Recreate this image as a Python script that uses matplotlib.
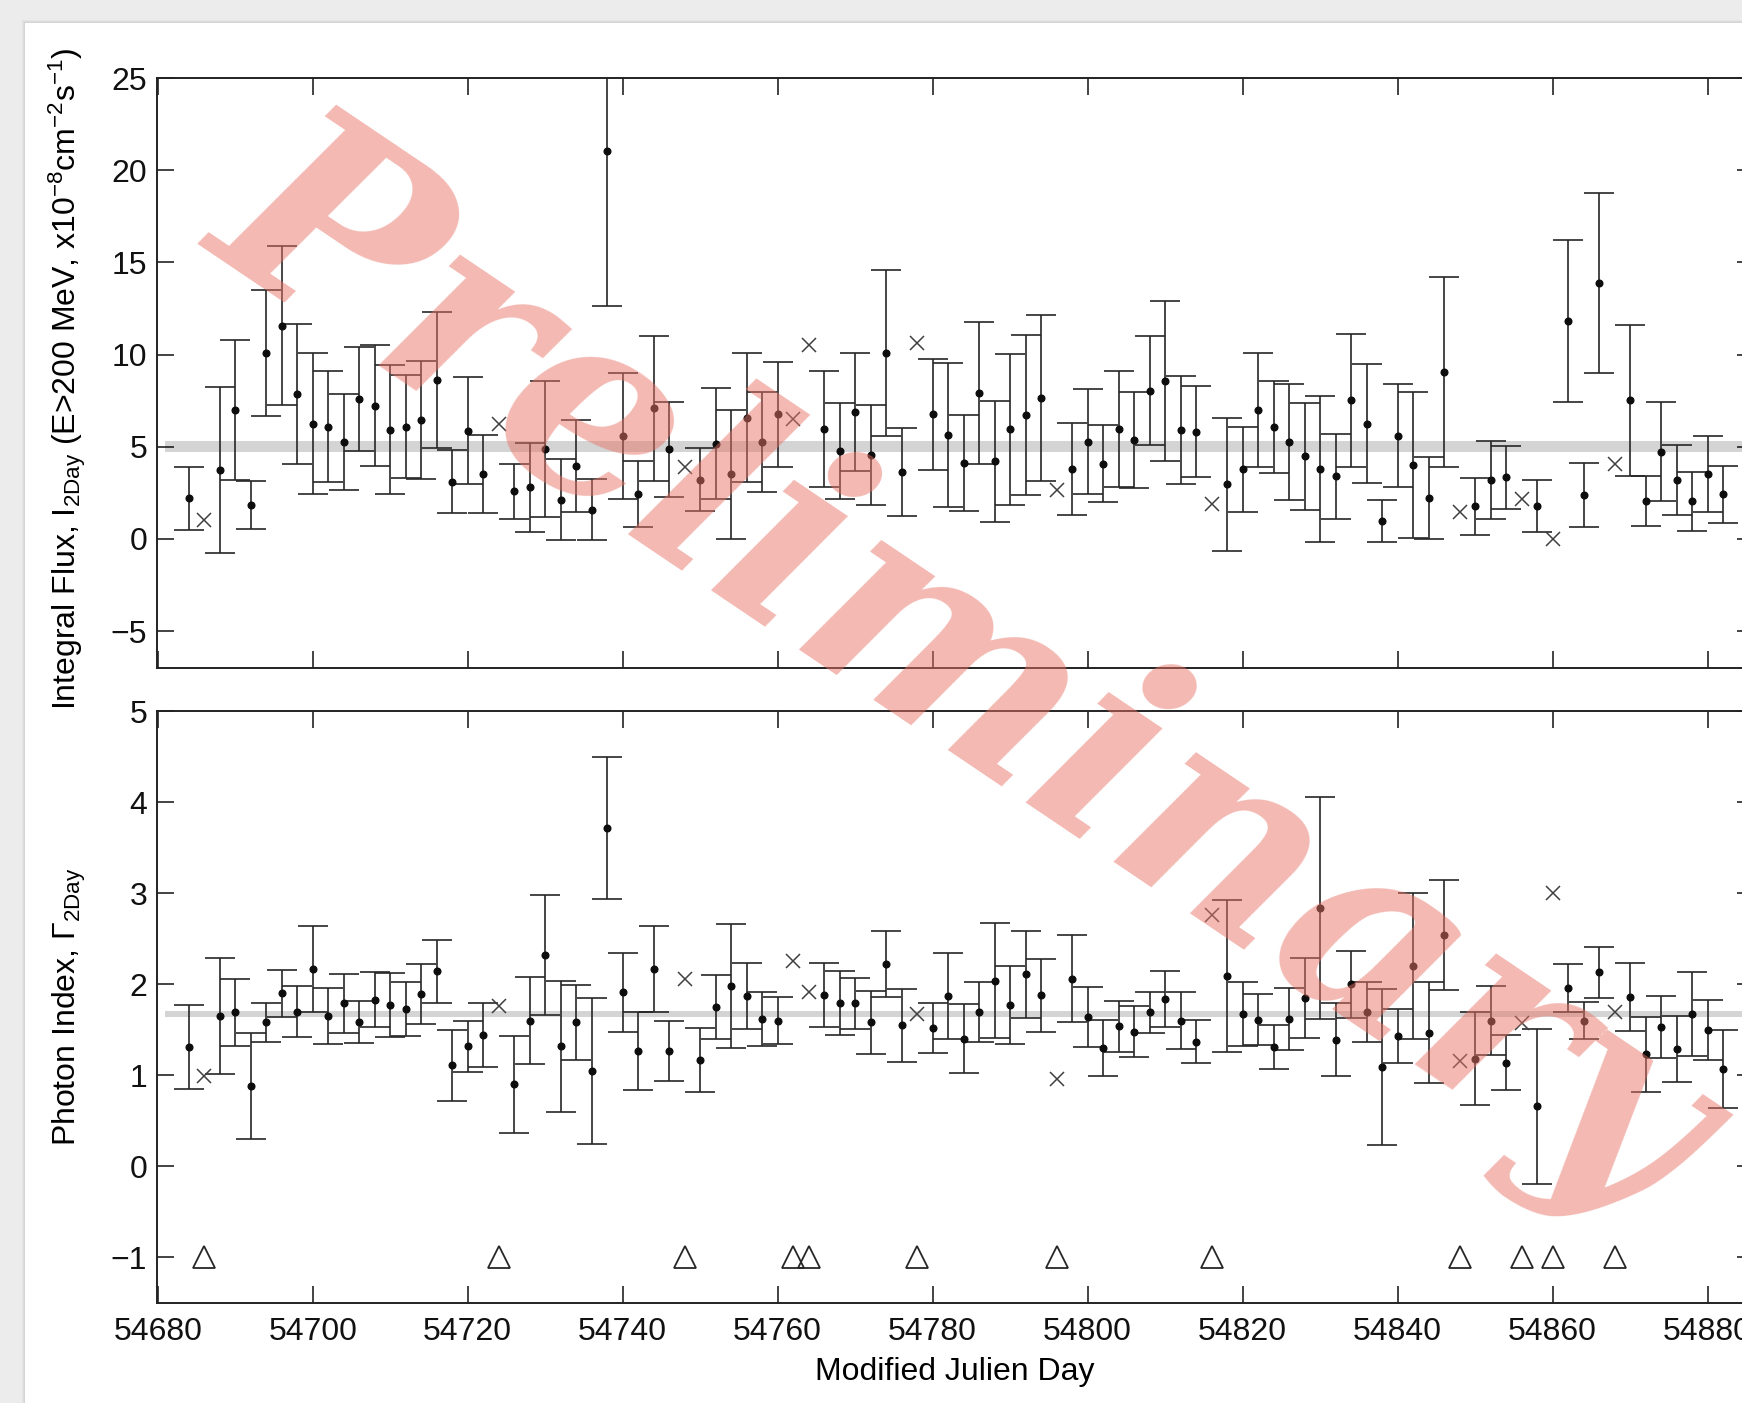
import numpy as np
import matplotlib.pyplot as plt
from matplotlib.patches import Rectangle

plt.rcParams['font.family'] = ['Liberation Sans', 'DejaVu Sans']
plt.rcParams['mathtext.fontset'] = 'custom'
plt.rcParams['mathtext.rm'] = 'Liberation Sans'
plt.rcParams['mathtext.it'] = 'Liberation Sans:italic'
plt.rcParams['mathtext.bf'] = 'Liberation Sans:bold'

# 2-day bins (MJD centre)
mjd = [54684, 54686, 54688, 54690, 54692, 54694, 54696, 54698, 54700, 54702,
       54704, 54706, 54708, 54710, 54712, 54714, 54716, 54718, 54720, 54722,
       54724, 54726, 54728, 54730, 54732, 54734, 54736, 54738, 54740, 54742,
       54744, 54746, 54748, 54750, 54752, 54754, 54756, 54758, 54760, 54762,
       54764, 54766, 54768, 54770, 54772, 54774, 54776, 54778, 54780, 54782,
       54784, 54786, 54788, 54790, 54792, 54794, 54796, 54798, 54800, 54802,
       54804, 54806, 54808, 54810, 54812, 54814, 54816, 54818, 54820, 54822,
       54824, 54826, 54828, 54830, 54832, 54834, 54836, 54838, 54840, 54842,
       54844, 54846, 54848, 54850, 54852, 54854, 54856, 54858, 54860, 54862,
       54864, 54866, 54868, 54870, 54872, 54874, 54876, 54878, 54880, 54882]

# integral flux E>200 MeV (x1e-8 cm-2 s-1) and 1-sigma errors
flux = [2.20, 1.04, 3.74, 6.98, 1.84, 10.09, 11.57, 7.84, 6.26, 6.09,
        5.27, 7.59, 7.23, 5.91, 6.09, 6.43, 8.62, 3.11, 5.86, 3.53,
        6.26, 2.58, 2.79, 4.89, 2.12, 3.95, 1.59, 21.06, 5.59, 2.43,
        7.08, 4.85, 3.91, 3.21, 5.17, 3.51, 6.58, 5.27, 6.75, 6.52,
        10.54, 5.95, 4.75, 6.89, 4.54, 10.09, 3.63, 10.62, 6.75, 5.63,
        4.12, 7.93, 4.20, 5.95, 6.73, 7.63, 2.68, 3.78, 5.27, 4.09,
        5.95, 5.36, 8.05, 8.58, 5.91, 5.82, 1.88, 2.96, 3.78, 6.98,
        6.09, 5.25, 4.49, 3.80, 3.40, 7.51, 6.26, 0.98, 5.59, 4.01,
        2.22, 9.04, 1.46, 1.76, 3.19, 3.34, 2.14, 1.80, -0.01, 11.80,
        2.39, 13.88, 4.09, 7.51, 2.05, 4.73, 3.19, 2.05, 3.53, 2.41]
flux_err = [1.70, 0, 4.50, 3.80, 1.30, 3.40, 4.30, 3.80, 3.80, 3.00,
            2.60, 2.80, 3.30, 3.50, 2.80, 3.20, 3.70, 1.70, 2.90, 2.10,
            0, 1.50, 2.40, 3.70, 2.20, 2.50, 1.65, 8.40, 3.40, 1.80,
            3.95, 2.60, 0, 1.70, 3.00, 3.50, 3.50, 2.70, 2.85, 0,
            0, 3.15, 2.60, 3.20, 2.70, 4.50, 2.40, 0, 3.00, 3.90,
            2.60, 3.85, 3.30, 4.10, 4.35, 4.50, 0, 2.50, 2.85, 2.10,
            3.15, 2.60, 2.95, 4.35, 2.95, 2.45, 0, 3.60, 2.30, 3.10,
            2.50, 3.15, 2.90, 3.95, 2.30, 3.60, 3.25, 1.15, 2.80, 3.95,
            2.20, 5.15, 0, 1.55, 2.10, 1.70, 0, 1.40, 0, 4.40,
            1.75, 4.90, 0, 4.10, 1.35, 2.70, 1.90, 1.60, 2.05, 1.55]

# photon index and errors
index = [1.31, 0.99, 1.65, 1.69, 0.88, 1.58, 1.90, 1.70, 2.17, 1.65,
         1.79, 1.59, 1.83, 1.77, 1.73, 1.89, 2.14, 1.11, 1.32, 1.44,
         1.76, 0.90, 1.60, 2.32, 1.32, 1.58, 1.05, 3.72, 1.91, 1.27,
         2.17, 1.27, 2.06, 1.17, 1.75, 1.98, 1.87, 1.62, 1.60, 2.25,
         1.91, 1.88, 1.79, 1.79, 1.58, 2.22, 1.55, 1.67, 1.52, 1.87,
         1.40, 1.70, 2.04, 1.77, 2.11, 1.88, 0.96, 2.06, 1.64, 1.30,
         1.54, 1.48, 1.69, 1.84, 1.60, 1.37, 2.76, 2.09, 1.67, 1.61,
         1.31, 1.62, 1.85, 2.84, 1.39, 2.00, 1.70, 1.09, 1.43, 2.20,
         1.47, 2.54, 1.16, 1.18, 1.60, 1.14, 1.57, 0.66, 3.00, 1.96,
         1.60, 2.13, 1.69, 1.86, 1.23, 1.53, 1.29, 1.67, 1.50, 1.07]
index_err = [0.46, 0, 0.64, 0.37, 0.58, 0.21, 0.26, 0.28, 0.47, 0.31,
             0.32, 0.23, 0.30, 0.35, 0.30, 0.33, 0.35, 0.39, 0.28, 0.35,
             0, 0.53, 0.48, 0.66, 0.72, 0.41, 0.80, 0.78, 0.43, 0.43,
             0.47, 0.33, 0, 0.35, 0.35, 0.68, 0.36, 0.30, 0.26, 0,
             0, 0.35, 0.35, 0.28, 0.35, 0.36, 0.40, 0, 0.27, 0.47,
             0.38, 0.33, 0.63, 0.43, 0.48, 0.40, 0, 0.48, 0.33, 0.31,
             0.28, 0.28, 0.23, 0.31, 0.31, 0.24, 0, 0.83, 0.35, 0.28,
             0.24, 0.34, 0.44, 1.22, 0.40, 0.37, 0.33, 0.86, 0.30, 0.80,
             0.55, 0.60, 0, 0.51, 0.38, 0.30, 0, 0.85, 0, 0.26,
             0.20, 0.28, 0, 0.37, 0.41, 0.34, 0.36, 0.46, 0.33, 0.43]

# bins with low significance (plotted as crosses, flagged with triangles)
low_ts = [54686, 54724, 54748, 54762, 54764, 54778, 54796, 54816,
          54848, 54856, 54860, 54868]
flag_level = -1

# mean values (grey bands)
flux_mean, flux_mean_err = 5.0, 0.31
index_mean, index_mean_err = 1.675, 0.035
band_span = [54681, 54886]

mjd = np.array(mjd)
low = np.isin(mjd, low_ts)
good = ~low

fig = plt.figure(figsize=(17.42, 14.03), dpi=100)

# page with a soft shadow on the left / top
fig.patch.set_facecolor('#ececec')
for i, g in enumerate(['#e4e4e4', '#dcdcdc', '#d4d4d4']):
    fig.patches.append(Rectangle((22 + i, 0), 1800, 1403 - 20 - i,
                                 transform=None, facecolor=g, edgecolor='none', zorder=-3))
fig.patches.append(Rectangle((25, 0), 1800, 1403 - 23, transform=None,
                             facecolor='white', edgecolor='none', zorder=-2))

ax1 = fig.add_axes([0.0901, 0.5239, 0.9168, 0.4205])
ax2 = fig.add_axes([0.0901, 0.0713, 0.9168, 0.4219])

eb_kw = dict(fmt='o', ms=4.8, color='0.05', ecolor='0.15', elinewidth=1.2,
             capsize=10.8, capthick=1.2, zorder=3)

# flux panel
ax1.fill_between(band_span, flux_mean - flux_mean_err, flux_mean + flux_mean_err,
                 color='#d4d4d4', lw=0, zorder=1)
ax1.errorbar(mjd[good], np.array(flux)[good], yerr=np.array(flux_err)[good], **eb_kw)
ax1.plot(mjd[low], np.array(flux)[low], 'x', color='0.25', ms=10, mew=1.1, zorder=3)

# index panel
ax2.fill_between(band_span, index_mean - index_mean_err, index_mean + index_mean_err,
                 color='#d4d4d4', lw=0, zorder=1)
ax2.errorbar(mjd[good], np.array(index)[good], yerr=np.array(index_err)[good], **eb_kw)
ax2.plot(mjd[low], np.array(index)[low], 'x', color='0.25', ms=10, mew=1.1, zorder=3)
ax2.plot(mjd[low], [flag_level] * low.sum(), '^', mfc='none', mec='0.15',
         ms=16, mew=1.3, zorder=3)

for ax in (ax1, ax2):
    ax.set_xlim(54679.9, 54886)
    ax.set_xticks(np.arange(54680, 54881, 20))
    ax.tick_params(direction='in', length=12, width=1.1, top=True, right=True,
                   labelsize=23, colors='#111111')
    ax.tick_params(axis='x', pad=10)
    ax.tick_params(axis='y', pad=7)
    for s in ax.spines.values():
        s.set_linewidth(1.4)
        s.set_color('#222222')
    ax.set_facecolor('white')

ax1.set_ylim(-7, 25)
ax1.set_yticks([-5, 0, 5, 10, 15, 20, 25])
ax1.set_xticklabels([])
ax2.set_ylim(-1.5, 5)
ax2.set_yticks([-1, 0, 1, 2, 3, 4, 5])

ax1.set_ylabel(r'Integral Flux, I$_{\rm 2Day}$ (E>200 MeV, x10$^{-8}$cm$^{-2}$s$^{-1}$)',
               fontsize=23)
ax1.yaxis.set_label_coords(-0.043, 0.49)
ax2.set_ylabel(r'Photon Index, $\Gamma_{\rm 2Day}$', fontsize=23)
ax2.yaxis.set_label_coords(-0.043, 0.5)
ax2.set_xlabel('Modified Julien Day', fontsize=23)
ax2.xaxis.set_label_coords(0.4997, -0.091)

# watermark
fig.text(0.553, 0.522, 'Preliminary', fontsize=190, family='DejaVu Serif',
         style='italic', weight='bold', color=(0.91, 0.45, 0.40), alpha=0.5,
         rotation=-34, ha='center', va='center', rotation_mode='anchor', zorder=10)

fig.savefig('out.png', dpi=100)
